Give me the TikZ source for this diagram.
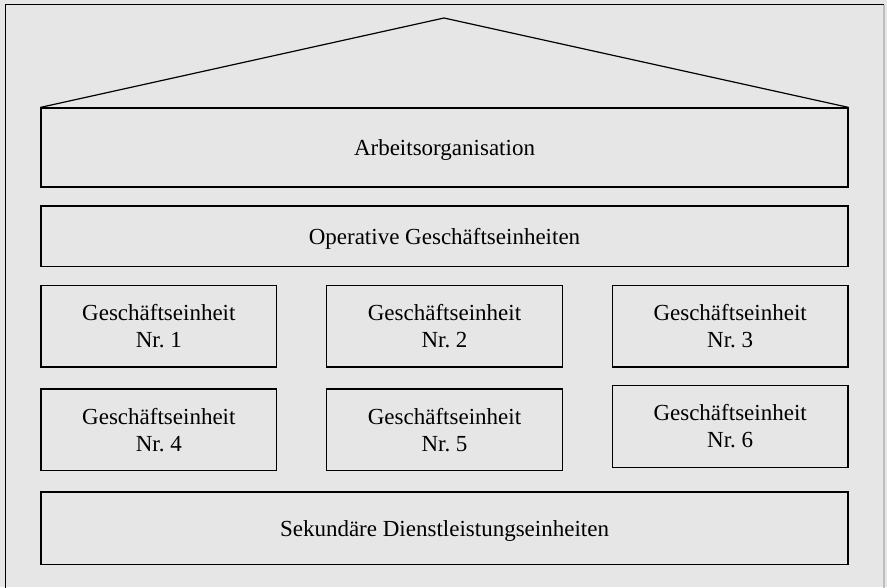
\documentclass[tikz,border=0pt]{standalone}
\usepackage{fontspec}
\setmainfont{Liberation Serif}
\frenchspacing
\begin{document}
\begin{tikzpicture}[x=1pt,y=-1pt,
  unit/.style={draw=black, line width=1.2pt, fill=bgray, inner sep=0pt,
    align=center, text depth=0pt, font=\fontsize{23}{27}\selectfont},
  roofline/.style={draw=black, line width=1.2pt}]
\definecolor{bgray}{HTML}{E6E6E6}
\definecolor{edgegray}{HTML}{BEBEBE}
\useasboundingbox (0,0) rectangle (887,587);
\fill[bgray] (0,0) rectangle (887,587);
% frame
\draw[black, line width=1.2pt] (5.5,590) -- (5.5,4.5) -- (884,4.5);
\draw[edgegray, line width=1.2pt] (884,4.5) -- (884,590);
% layers of the house
\node[unit, minimum width=807pt, minimum height=79pt] (arb) at (444.5,147.5) {Arbeitsorganisation};
\node[unit, minimum width=807pt, minimum height=60.5pt] (ops) at (444.5,236.25) {Operative Geschäftseinheiten};
\node[unit, minimum width=235.7pt, minimum height=81.3pt] (g1) at (158.85,326.35) {Geschäftseinheit\\Nr. 1};
\node[unit, minimum width=235.6pt, minimum height=81.3pt] (g2) at (444.5,326.35) {Geschäftseinheit\\Nr. 2};
\node[unit, minimum width=235.7pt, minimum height=81.3pt] (g3) at (730.15,326.35) {Geschäftseinheit\\Nr. 3};
\node[unit, minimum width=235.7pt, minimum height=81.7pt] (g4) at (158.85,429.85) {Geschäftseinheit\\Nr. 4};
\node[unit, minimum width=235.6pt, minimum height=81.7pt] (g5) at (444.5,429.85) {Geschäftseinheit\\Nr. 5};
\node[unit, minimum width=235.7pt, minimum height=82pt] (g6) at (730.15,426.3) {Geschäftseinheit\\Nr. 6};
\node[unit, minimum width=807pt, minimum height=72.7pt] (sek) at (444.5,528.35) {Sekundäre Dienstleistungseinheiten};
% roof
\coordinate (apex) at (444,18);
\draw[roofline] (arb.north west) -- (apex) -- (arb.north east);
\end{tikzpicture}
\end{document}
